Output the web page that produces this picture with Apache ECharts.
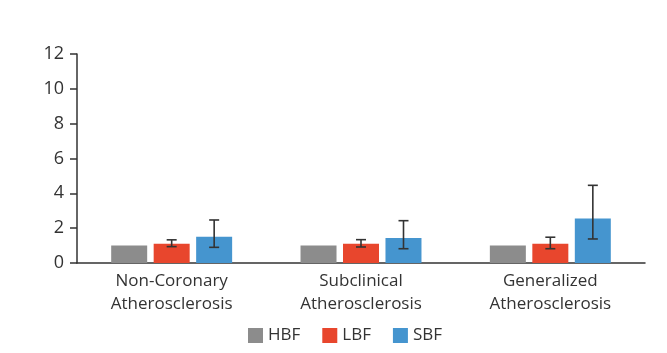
<!DOCTYPE html>
<html lang="en">
<head>
    <meta charset="UTF-8">
    <title>Atherosclerosis</title>
    <script src="https://cdn.jsdelivr.net/npm/echarts@6/dist/echarts.min.js"></script>
</head>
<body style="margin:0;background:#fff;">
    <div id="chart" style="width:667px;height:353px;"></div>
    <script type="text/javascript">

        var categories = ['Non-Coronary\nAtherosclerosis', 'Subclinical\nAtherosclerosis', 'Generalized\nAtherosclerosis'];
        var hbf = [1.0, 1.0, 1.0];
        var lbf = [1.11, 1.11, 1.11];
        var sbf = [1.51, 1.44, 2.55];
        // error bar ranges [low, high]
        var lbfErr = [[0.94, 1.33], [0.92, 1.34], [0.82, 1.48]];
        var sbfErr = [[0.9, 2.47], [0.82, 2.43], [1.38, 4.46]];

        var colors = ['#8c8c8c', '#e8462d', '#4595cf'];
        var font = 'Open Sans';

        function errData(arr) {
            var out = [];
            for (var i = 0; i < arr.length; i++) {
                out.push([i, arr[i][0], arr[i][1]]);
            }
            return out;
        }

        function errRender(offset) {
            return function (params, api) {
                var lo = api.coord([api.value(0), api.value(1)]);
                var hi = api.coord([api.value(0), api.value(2)]);
                var x = lo[0] + offset;
                var cap = 5;
                var style = { stroke: '#333', lineWidth: 1.6 };
                return {
                    type: 'group',
                    children: [
                        { type: 'line', shape: { x1: x, y1: lo[1], x2: x, y2: hi[1] }, style: style },
                        { type: 'line', shape: { x1: x - cap, y1: lo[1], x2: x + cap, y2: lo[1] }, style: style },
                        { type: 'line', shape: { x1: x - cap, y1: hi[1], x2: x + cap, y2: hi[1] }, style: style }
                    ]
                };
            };
        }

        var chart = echarts.init(document.getElementById('chart'));
        chart.setOption({
            animation: false,
            color: colors,
            textStyle: { fontFamily: font },
            grid: { left: 77, right: 22, top: 54, bottom: 90 },
            legend: {
                data: ['HBF', 'LBF', 'SBF'],
                left: 243,
                top: 322,
                itemWidth: 15,
                itemHeight: 15,
                itemGap: 22,
                icon: 'rect',
                textStyle: { fontSize: 17, color: '#333', fontFamily: font }
            },
            xAxis: {
                type: 'category',
                data: categories,
                axisLine: { lineStyle: { color: '#333', width: 1.5 } },
                axisTick: { show: false },
                axisLabel: { color: '#333', fontSize: 17, lineHeight: 23, margin: 7 }
            },
            yAxis: {
                type: 'value',
                min: 0,
                max: 12,
                interval: 2,
                splitLine: { show: false },
                axisLine: { show: true, lineStyle: { color: '#333', width: 1.5 } },
                axisTick: { show: true, length: 7, lineStyle: { color: '#333', width: 1.5 } },
                axisLabel: { color: '#333', fontSize: 18, margin: 13 }
            },
            series: [
                { name: 'HBF', type: 'bar', data: hbf, barWidth: 36, barGap: '18%' },
                { name: 'LBF', type: 'bar', data: lbf, barWidth: 36, barGap: '18%' },
                { name: 'SBF', type: 'bar', data: sbf, barWidth: 36, barGap: '18%' },
                { type: 'custom', renderItem: errRender(0), data: errData(lbfErr), z: 5 },
                { type: 'custom', renderItem: errRender(42.5), data: errData(sbfErr), z: 5 }
            ]
        });

    </script>
</body>
</html>
